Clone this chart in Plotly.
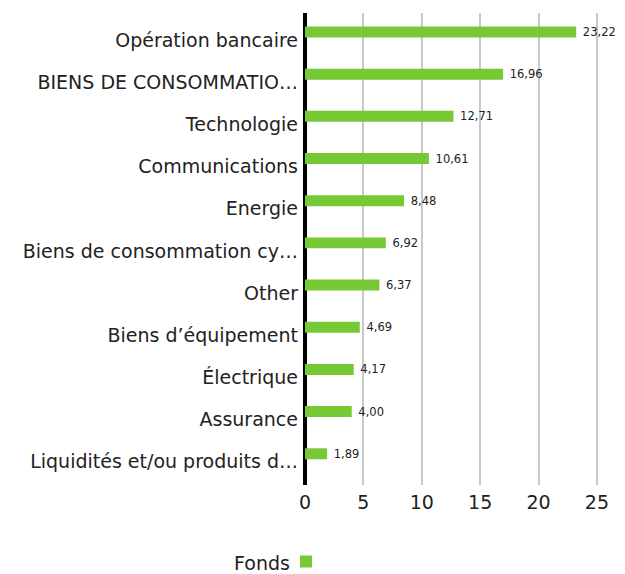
import plotly.graph_objects as go

categories = [
    "Opération bancaire",
    "BIENS DE CONSOMMATIO…",
    "Technologie",
    "Communications",
    "Energie",
    "Biens de consommation cy…",
    "Other",
    "Biens d’équipement",
    "Électrique",
    "Assurance",
    "Liquidités et/ou produits d…",
]
fonds = [23.22, 16.96, 12.71, 10.61, 8.48, 6.92, 6.37, 4.69, 4.17, 4.00, 1.89]
x_ticks = [0, 5, 10, 15, 20, 25]
series_name = "Fonds"

FONT = "DejaVu Sans"
NB = "\u00a0"

fig = go.Figure()
fig.add_trace(go.Bar(
    y=categories,
    x=fonds,
    orientation="h",
    name="",
    marker=dict(color="#76c935", line=dict(width=0)),
    width=0.26,
    offset=-0.32,
    texttemplate=NB + "%{x:.2f}",
    textposition="outside",
    constraintext="none",
    textfont=dict(family=FONT, size=11.5, color="#222222"),
    cliponaxis=False,
    showlegend=True,
))

fig.add_annotation(
    text=series_name,
    xref="paper", yref="paper",
    x=-0.044, y=-0.166,
    xanchor="right", yanchor="middle",
    showarrow=False,
    font=dict(family=FONT, size=19, color="#222222"),
)

fig.update_layout(
    width=625,
    height=574,
    margin=dict(l=297, r=33, t=5, b=97, autoexpand=False),
    paper_bgcolor="white",
    plot_bgcolor="white",
    separators=", ",
    font=dict(family=FONT, color="#222222"),
    xaxis=dict(
        range=[0, 25.26],
        tickvals=x_ticks,
        showgrid=True,
        gridcolor="#c8c8c8",
        gridwidth=2,
        zeroline=True,
        zerolinecolor="#000000",
        zerolinewidth=4,
        showline=False,
        tickfont=dict(family=FONT, size=19, color="#222222"),
        ticks="",
        ticklabelstandoff=4,
        automargin=False,
        fixedrange=True,
    ),
    yaxis=dict(
        type="category",
        categoryorder="array",
        categoryarray=categories,
        range=[10.55, -0.64],
        showgrid=False,
        zeroline=False,
        showline=False,
        ticks="",
        ticklabelstandoff=6,
        automargin=False,
        tickfont=dict(family=FONT, size=19, color="#222222"),
        fixedrange=True,
    ),
    showlegend=True,
    legend=dict(
        orientation="h",
        xref="container",
        yref="container",
        x=278 / 625,
        xanchor="left",
        y=0.035,
        yanchor="middle",
        font=dict(family=FONT, size=18),
        itemwidth=30,
    ),
)

fig.write_html("out.html")
